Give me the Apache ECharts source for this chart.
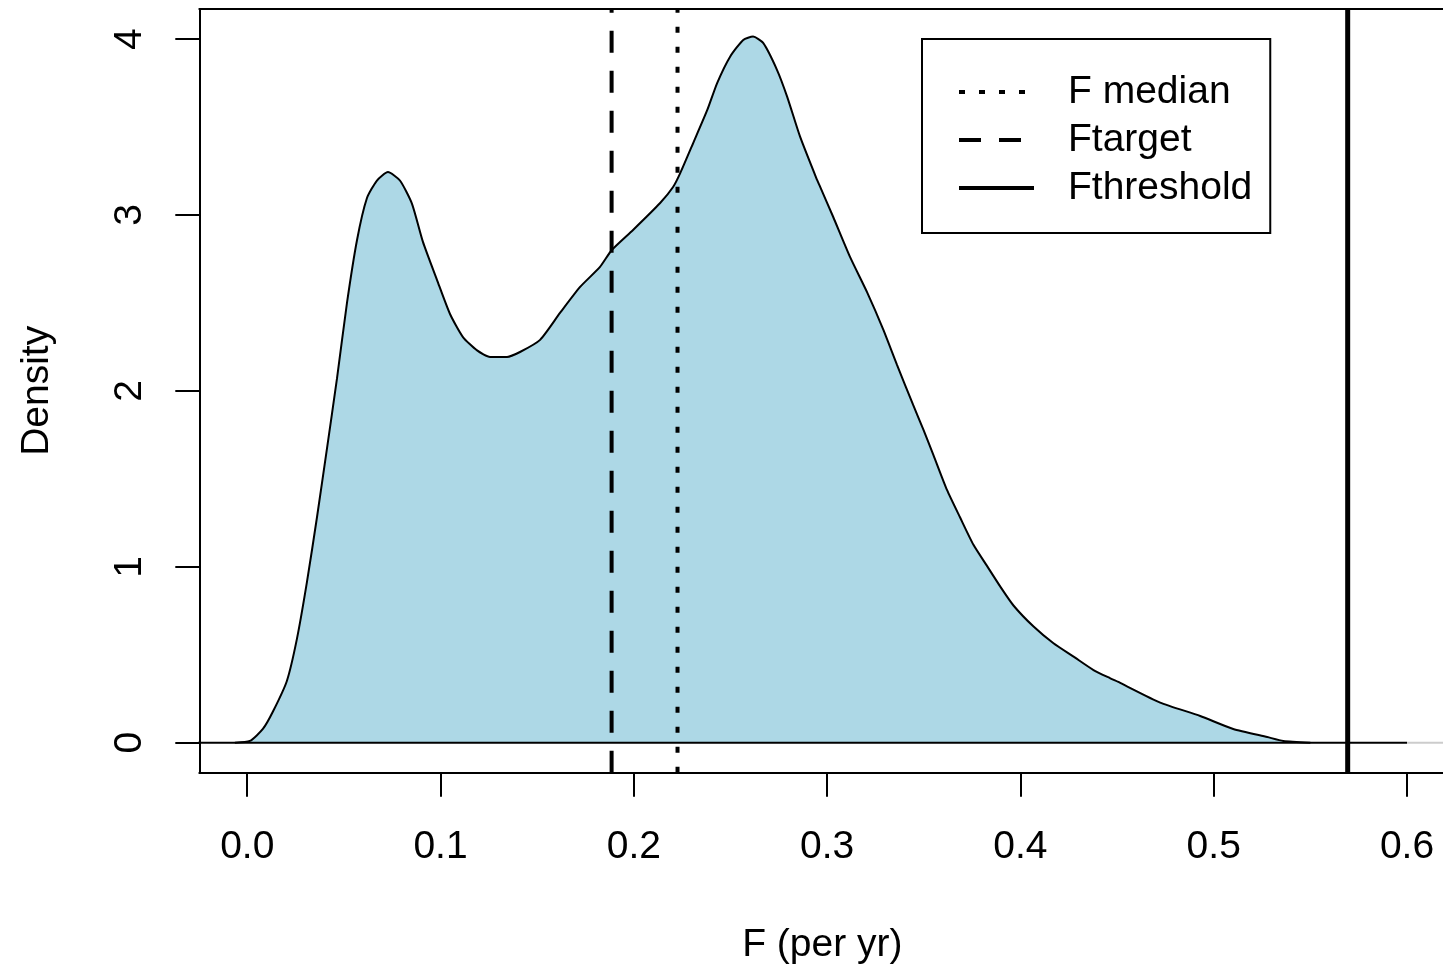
<!DOCTYPE html>
<html>
<head>
<meta charset="utf-8">
<script src="https://cdn.jsdelivr.net/npm/echarts@6/dist/echarts.min.js"></script>
<style>
html,body{margin:0;padding:0;background:#fff;overflow:hidden;}
#chart{width:1443px;height:967px;}
</style>
</head>
<body>
<div id="chart"></div>
<script>
// F values (per yr) and density estimates
const fValues = [-0.0064,0.0014,0.0081,0.0133,0.0205,0.0257,0.0309,0.0361,0.0413,0.0464,0.0516,0.0568,0.0619,0.0671,0.0728,0.0790,0.0852,0.0909,0.0982,0.1049,0.1116,0.1189,0.1256,0.1344,0.1411,0.1515,0.1618,0.1722,0.1825,0.1886,0.1996,0.2136,0.2203,0.2240,0.2307,0.2380,0.2431,0.2498,0.2566,0.2617,0.2669,0.2741,0.2793,0.2860,0.2948,0.2964,0.3031,0.3119,0.3207,0.3290,0.3362,0.3445,0.3498,0.3550,0.3620,0.3688,0.3757,0.3827,0.3896,0.3964,0.4068,0.4171,0.4275,0.4378,0.4465,0.4516,0.4723,0.4930,0.5101,0.5277,0.5360,0.5500];
const densityValues = [0,0.010,0.078,0.177,0.351,0.590,0.914,1.283,1.676,2.068,2.500,2.858,3.095,3.196,3.244,3.196,3.065,2.847,2.630,2.437,2.306,2.230,2.193,2.193,2.221,2.290,2.443,2.591,2.705,2.801,2.915,3.068,3.159,3.238,3.409,3.597,3.750,3.900,3.995,4.014,3.978,3.824,3.673,3.445,3.199,3.160,2.990,2.760,2.560,2.350,2.147,1.920,1.780,1.635,1.437,1.280,1.125,1.005,0.887,0.780,0.660,0.565,0.489,0.413,0.366,0.340,0.228,0.152,0.078,0.032,0.010,0];
const xTicks = [0,0.1,0.2,0.3,0.4,0.5,0.6];
const yTicks = [0,1,2,3,4];
const refNames = ['F median','Ftarget','Fthreshold'];
const refValues = [0.2226,0.1885,0.5693];

const X_MIN = -0.0248, X_MAX = 0.6198;
const Y_MIN = -0.1706, Y_MAX = 4.171;
const FONT = "'Liberation Sans', Arial, sans-serif";

const curve = fValues.map((f,i)=>[f,densityValues[i]]);
const vline = v => [[v,Y_MIN],[v,Y_MAX]];

const chart = echarts.init(document.getElementById('chart'));
chart.setOption({
  animation:false,
  backgroundColor:'#fff',
  textStyle:{fontFamily:FONT,color:'#000'},
  grid:{left:199.3,top:9,width:1246,height:763.7,show:false,containLabel:false,outerBoundsMode:'none'},
  xAxis:[{
    type:'value',min:X_MIN,max:X_MAX,position:'bottom',
    name:'F (per yr)',nameLocation:'middle',nameGap:153,
    nameTextStyle:{fontSize:39,fontFamily:FONT,color:'#000'},
    axisLine:{show:true,onZero:false,lineStyle:{color:'#000',width:2}},
    axisTick:{show:true,length:24,lineStyle:{color:'#000',width:2},customValues:xTicks},
    axisLabel:{show:true,fontSize:39,fontFamily:FONT,color:'#000',margin:55,customValues:xTicks,formatter:v=>v.toFixed(1),hideOverlap:false},
    splitLine:{show:false}
  },{
    type:'value',min:X_MIN,max:X_MAX,position:'top',
    axisLine:{show:true,onZero:false,lineStyle:{color:'#000',width:2}},
    axisTick:{show:false},axisLabel:{show:false},splitLine:{show:false}
  }],
  yAxis:{
    type:'value',min:Y_MIN,max:Y_MAX,
    name:'Density',nameLocation:'middle',nameGap:143,nameRotate:90,
    nameTextStyle:{fontSize:39,fontFamily:FONT,color:'#000'},
    axisLine:{show:true,onZero:false,lineStyle:{color:'#000',width:2}},
    axisTick:{show:true,length:24,lineStyle:{color:'#000',width:2},customValues:yTicks},
    axisLabel:{show:true,fontSize:39,fontFamily:FONT,color:'#000',margin:50,rotate:90,customValues:yTicks,formatter:v=>String(v)},
    splitLine:{show:false}
  },
  legend:{
    data:[
      {name:refNames[0],lineStyle:{width:4}},
      {name:refNames[1],lineStyle:{width:4}},
      {name:refNames[2],lineStyle:{width:4}}
    ],
    orient:'vertical',left:922,top:39,
    backgroundColor:'#fff',borderColor:'#000',borderWidth:2,borderRadius:0,
    padding:[33,18,25,35],itemWidth:75,itemHeight:20,itemGap:8,
    itemStyle:{opacity:0},
    textStyle:{fontSize:39,fontFamily:FONT,color:'#000',lineHeight:40,padding:[0,0,0,29]},
    selectedMode:false
  },
  series:[
    {name:'density',type:'line',data:curve,symbol:'none',smooth:0.2,
     lineStyle:{color:'#000',width:2},areaStyle:{color:'#ADD8E6',opacity:1},z:2},
    {name:'zero',type:'line',data:[[-0.0372,0],[0.6,0]],symbol:'none',clip:false,
     lineStyle:{color:'#000',width:2},z:3},
    {name:'zero2',type:'line',data:[[0.6,0],[0.64,0]],symbol:'none',clip:false,
     lineStyle:{color:'#cccccc',width:2},z:3},
    {name:refNames[0],type:'line',data:vline(refValues[0]),symbol:'none',color:'#000',
     lineStyle:{color:'#000',width:4,type:[6,14],cap:'butt'},z:4},
    {name:refNames[1],type:'line',data:vline(refValues[1]),symbol:'none',color:'#000',
     lineStyle:{color:'#000',width:4,type:[22,18],cap:'butt'},z:4},
    {name:refNames[2],type:'line',data:vline(refValues[2]),symbol:'none',color:'#000',
     lineStyle:{color:'#000',width:5,type:'solid'},z:4}
  ]
});
</script>
</body>
</html>
